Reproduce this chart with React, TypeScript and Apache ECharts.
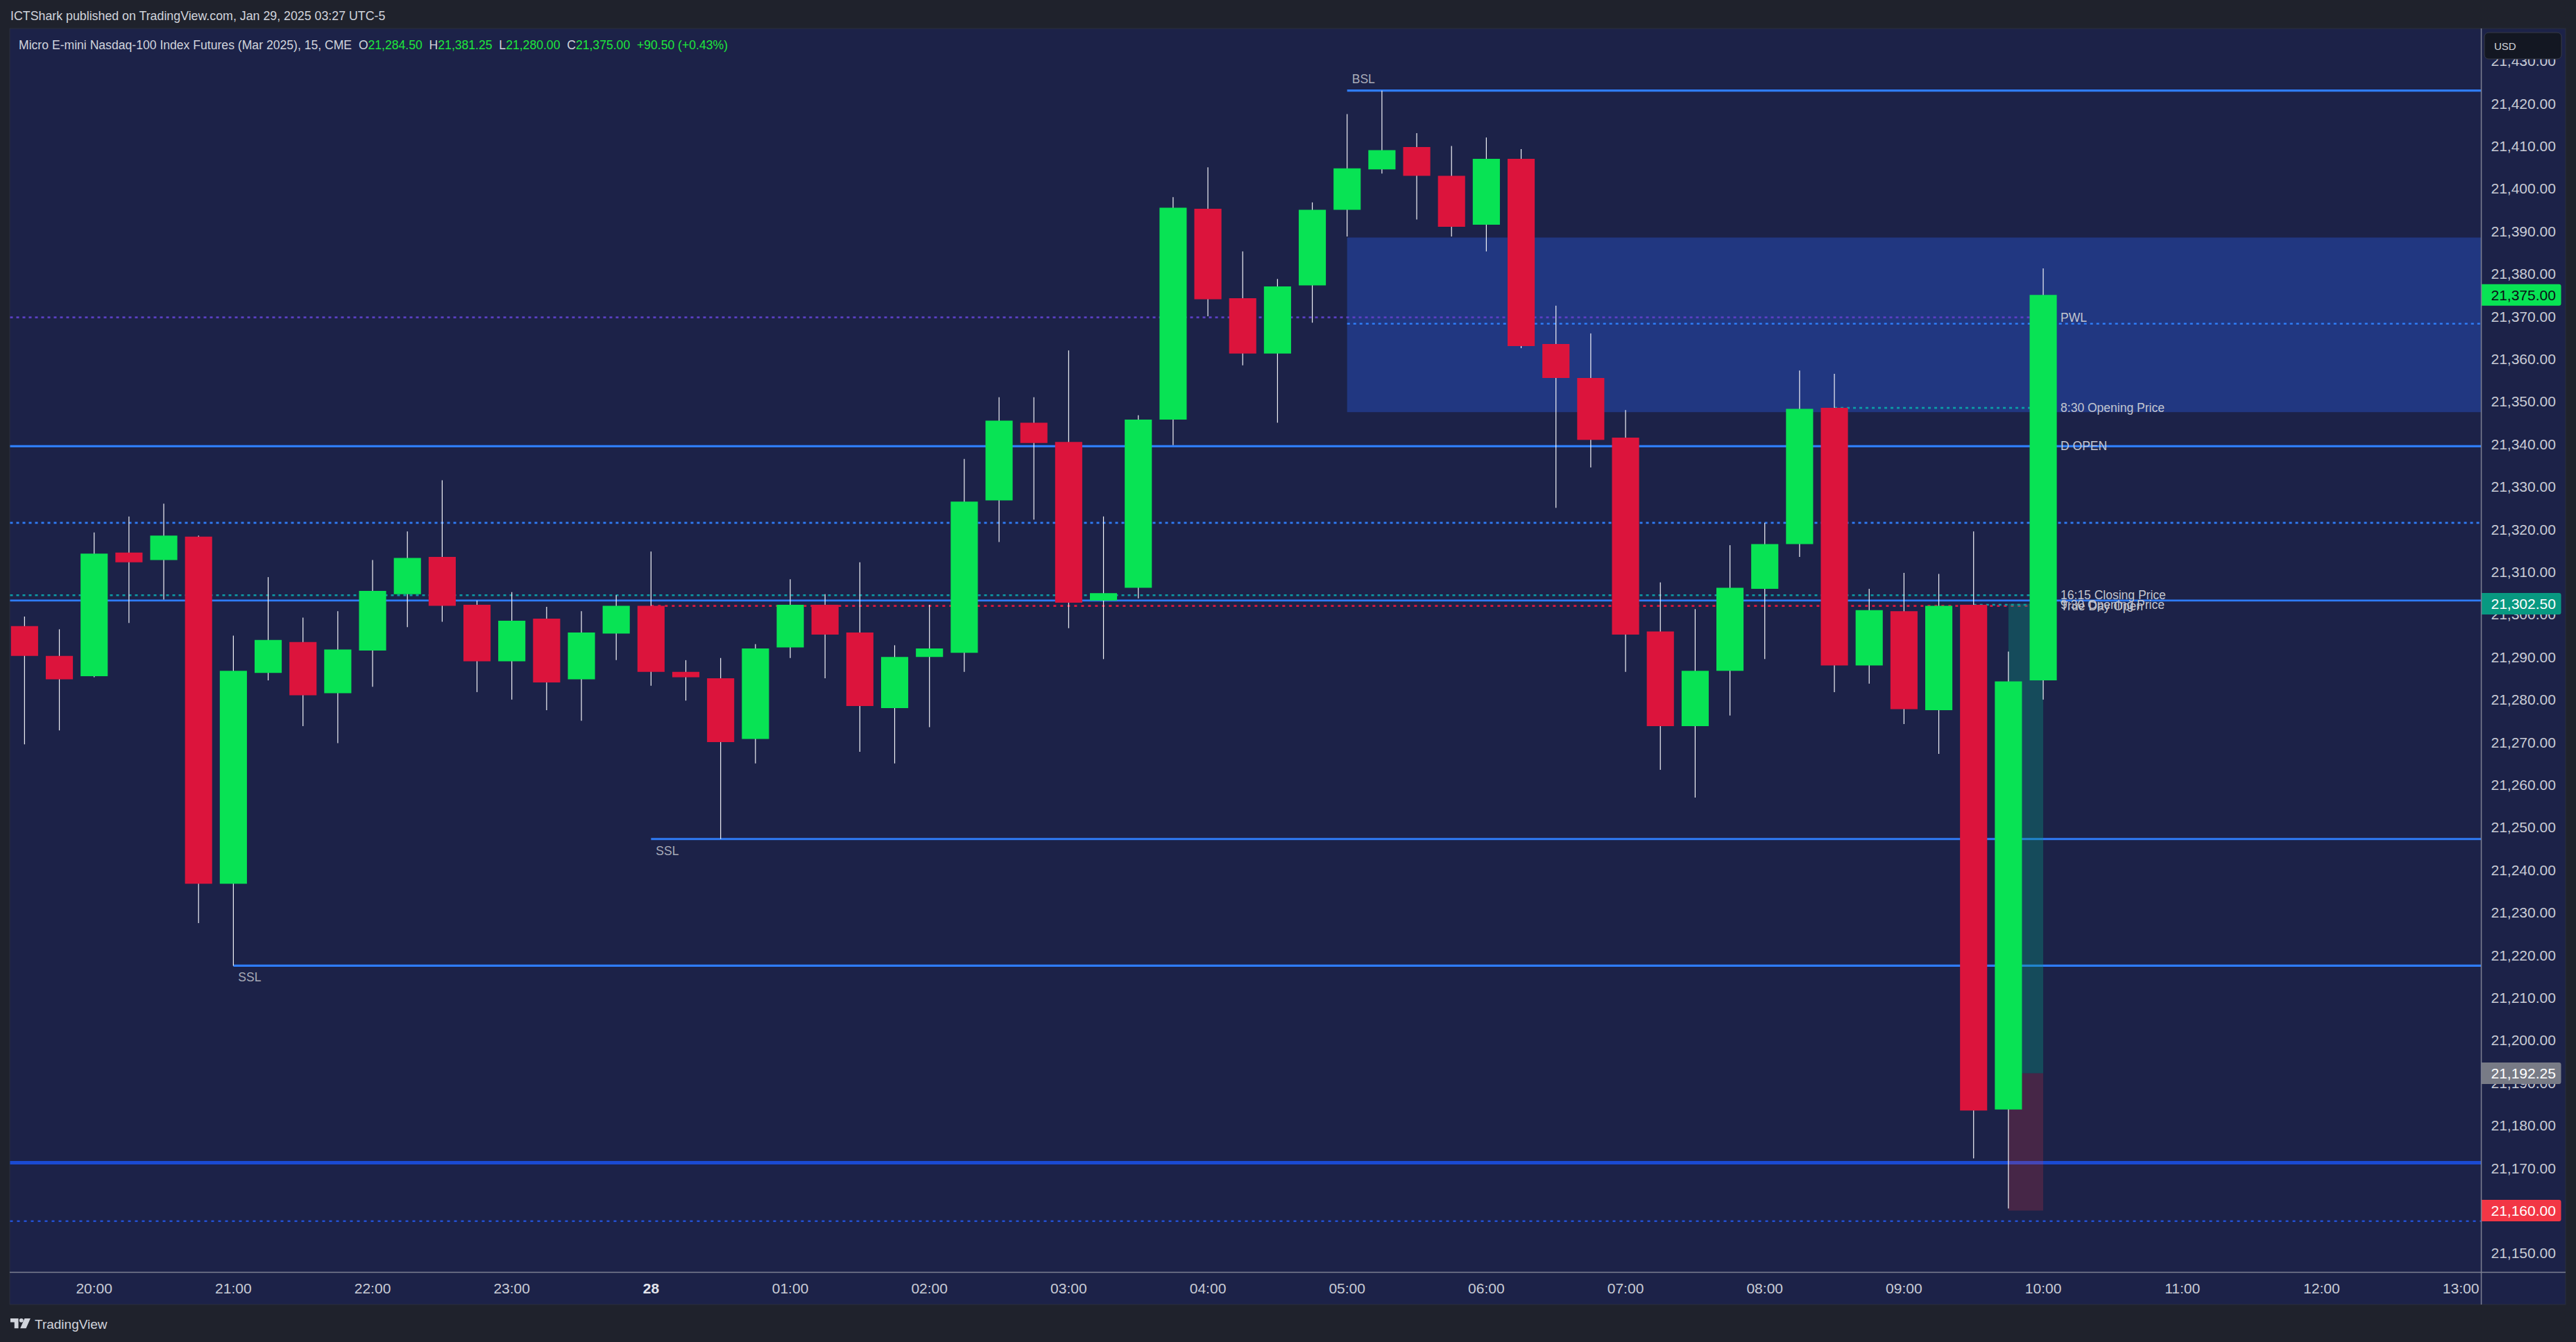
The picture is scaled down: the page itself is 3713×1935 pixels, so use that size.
import React, { useEffect, useRef } from 'react';
import * as echarts from 'echarts';

const W = 3713;
const H = 1935;

// ---- axes ----
const X_MIN = -0.416;
const X_MAX = 70.587;
const Y_MIN = 21145.5;
const Y_MAX = 21437.6;

const xTickPos = [2, 6, 10, 14, 18, 22, 26, 30, 34, 38, 42, 46, 50, 54, 58, 62, 66, 70];
const xTickLabels = ['20:00', '21:00', '22:00', '23:00', '28', '01:00', '02:00', '03:00', '04:00', '05:00', '06:00', '07:00', '08:00', '09:00', '10:00', '11:00', '12:00', '13:00'];
const yTicks = [21150, 21160, 21170, 21180, 21190, 21200, 21210, 21220, 21230, 21240, 21250, 21260, 21270, 21280, 21290, 21300, 21310, 21320, 21330, 21340, 21350, 21360, 21370, 21380, 21390, 21400, 21410, 21420, 21430];

// ---- candles: 15-minute bars from 19:30 (index 0) to 10:00 (index 58) ----
const opens = [
  21297.25, 21290.25, 21285.5, 21314.5, 21312.75, 21318.25, 21236.75, 21286.25, 21293.5, 21281.5,
  21291.5, 21304.75, 21313.5, 21302.25, 21289, 21299, 21284.75, 21295.5, 21302, 21286.5,
  21285, 21270.75, 21292.25, 21302.25, 21295.75, 21278, 21290, 21291, 21326.75, 21345,
  21340.5, 21303.25, 21306.25, 21345.75, 21395.25, 21374.25, 21361.25, 21377.25, 21395, 21404.5,
  21409.75, 21403, 21391.5, 21407, 21363.5, 21355.5, 21341.5, 21296, 21273.75, 21286.75,
  21306, 21316.5, 21348.5, 21288, 21300.75, 21277.5, 21302.25, 21183.75, 21284.5,
];
const highs = [
  21299.5, 21296.5, 21319.25, 21323, 21326, 21318.5, 21295, 21308.75, 21299.25, 21300.75,
  21312.75, 21319.5, 21331.5, 21303.25, 21305.25, 21301.75, 21300.75, 21304.5, 21314.75, 21289.25,
  21289.75, 21293, 21308.25, 21304.75, 21312.25, 21292.75, 21302.25, 21336.5, 21351, 21351,
  21362, 21323, 21346.75, 21398, 21405, 21385.25, 21378.75, 21396.75, 21417.5, 21423,
  21413, 21410, 21412, 21409.25, 21372.5, 21366, 21348, 21307.5, 21301.25, 21316.25,
  21321.5, 21357.25, 21356.5, 21306, 21309.75, 21309.5, 21319.5, 21291.25, 21381.25,
];
const lows = [
  21269.5, 21272.75, 21285.25, 21298, 21303.5, 21227.5, 21217.5, 21284.5, 21273.75, 21269.75,
  21283, 21297, 21298.25, 21281.75, 21280, 21277.5, 21275, 21289.25, 21283.25, 21279.75,
  21247.25, 21265, 21289.75, 21285, 21267.75, 21265, 21273.5, 21286.5, 21317, 21322.25,
  21296.75, 21289.5, 21303.75, 21339.75, 21370, 21358.5, 21345, 21368.5, 21388.75, 21403.5,
  21392.75, 21388.75, 21385.25, 21362.5, 21325, 21334.5, 21286.5, 21263.5, 21257, 21276.25,
  21289.5, 21313.5, 21281.75, 21283.75, 21274.25, 21267.25, 21172.25, 21160.5, 21280,
];
const closes = [
  21290.25, 21284.75, 21314.25, 21312.25, 21318.5, 21236.75, 21286.75, 21294, 21281, 21291.75,
  21305.5, 21313.25, 21302, 21289, 21298.5, 21284, 21295.75, 21302, 21286.5, 21285.25,
  21270, 21292, 21302.25, 21295.25, 21278.5, 21290, 21292, 21326.5, 21345.5, 21340.25,
  21302.75, 21305, 21345.75, 21395.5, 21374, 21361.25, 21377, 21395, 21404.75, 21409,
  21403, 21391, 21407, 21363, 21355.5, 21341, 21295.25, 21273.75, 21286.75, 21306.25,
  21316.5, 21348.25, 21288, 21301, 21277.75, 21302, 21183.5, 21284.25, 21375,
];

// ---- horizontal levels ----
const levelPrices = [21423, 21369.75, 21368.25, 21348.5, 21339.5, 21321.5, 21304.5, 21303.25, 21302, 21302.25, 21247.25, 21217.5, 21171.25, 21157.5];
const levelFrom = [38, X_MIN, 38, 52, X_MIN, X_MIN, X_MIN, X_MIN, 18, 56, 18, 6, X_MIN, X_MIN];
const levelTo = [X_MAX, 58, X_MAX, 58, X_MAX, X_MAX, 58, X_MAX, 58, 58, X_MAX, X_MAX, X_MAX, X_MAX];
const levelKinds = ['solid', 'dotPurple', 'dotBlue', 'dotTeal', 'solid', 'dotBlue', 'dotTeal', 'solidThin', 'dotRed', 'dotTeal', 'solid', 'solid', 'thick', 'dotDark'];

const levelLabelTexts = ['PWL', '8:30 Opening Price', 'D OPEN', '16:15 Closing Price', 'True Day Open', '9:30 Opening Price'];
const levelLabelPrices = [21369.75, 21348.5, 21339.5, 21304.5, 21302, 21302.25];
const levelLabelAt = 58;

const liqTexts = ['BSL', 'SSL', 'SSL'];
const liqPrices = [21423, 21247.25, 21217.5];
const liqFrom = [38, 18, 6];
const liqSide = [-1, 1, 1];

// ---- zones ----
const fvgZone = [38, X_MAX, 21347.5, 21388.5];
const posFrom = 57;
const posTo = 58;
const posEntry = 21192.25;
const posTarget = 21302.5;
const posStop = 21160;

// ---- price tags ----
const tagPrices = [21375, 21302.5, 21192.25, 21160];
const tagKinds = ['last', 'target', 'entry', 'stop'];

// ---- styles ----
const OUTER = '#1f222c';
const PANE = '#1c2248';
const GREEN = '#08e354';
const RED = '#dc143c';
const FONT = 'Liberation Sans, Arial, sans-serif';
const AXIS_TXT = '#c9ccd6';

const lineStyles: Record<string, any> = {
  solid: { color: '#2f7cf6', width: 3.2, type: 'solid' },
  solidThin: { color: '#2f7cf6', width: 2.6, type: 'solid' },
  dotBlue: { color: '#2f7cf6', width: 2.6, type: [4, 5] },
  dotPurple: { color: '#5a3fc2', width: 2.6, type: [4, 5] },
  dotTeal: { color: '#0c9ca6', width: 2.6, type: [4, 5] },
  dotRed: { color: '#e0173f', width: 2.6, type: [4, 6] },
  thick: { color: '#1a4ad2', width: 5, type: 'solid' },
  dotDark: { color: '#2350d2', width: 2.6, type: [4, 6] },
};
const tagStyles: Record<string, { bg: string; fg: string }> = {
  last: { bg: '#08e354', fg: '#0b0e16' },
  target: { bg: '#089981', fg: '#ffffff' },
  entry: { bg: '#787b86', fg: '#ffffff' },
  stop: { bg: '#f23645', fg: '#ffffff' },
};

const LOGO_D =
  'M0 0 H11 V14 H5.5 V5.5 H0 Z M12.2 2.8 A2.8 2.8 0 1 0 17.8 2.8 A2.8 2.8 0 1 0 12.2 2.8 Z M19.5 0 H27.5 L21.5 14 H13.5 Z';

let logoRegistered = false;
function registerLogo() {
  if (logoRegistered) return;
  try {
    echarts.graphic.registerShape('tvlogo', echarts.graphic.extendPath(LOGO_D, {}) as any);
    logoRegistered = true;
  } catch (e) {
    logoRegistered = false;
  }
}

function fmtPrice(v: number) {
  return v.toLocaleString('en-US', { minimumFractionDigits: 2, maximumFractionDigits: 2 });
}

function buildOption() {
  const candleData = opens.map((o, i) => [i, o, closes[i], lows[i], highs[i]]);

  const levelSeries = levelPrices.map((p, i) => ({
    type: 'line',
    data: [
      [levelFrom[i], p],
      [levelTo[i], p],
    ],
    symbol: 'none',
    silent: true,
    z: 2,
    clip: true,
    lineStyle: { ...lineStyles[levelKinds[i]], cap: 'butt' },
  }));

  const zoneRender = (fill: string) => (params: any, api: any) => {
    const a = api.coord([api.value(0), api.value(3)]);
    const b = api.coord([api.value(1), api.value(2)]);
    return {
      type: 'rect',
      shape: { x: a[0], y: a[1], width: b[0] - a[0], height: b[1] - a[1] },
      style: { fill },
    };
  };

  const NBSP = '\u00a0';
  const sp2 = NBSP + NBSP;

  const graphics: any[] = [
    {
      type: 'rect',
      z: -10,
      silent: true,
      shape: { x: 14, y: 41, width: 3684, height: 1840 },
      style: { fill: PANE, stroke: '#2a2e3b', lineWidth: 1 },
    },
    {
      type: 'line',
      z: 50,
      silent: true,
      shape: { x1: 14, y1: 1834.5, x2: 3698, y2: 1834.5 },
      style: { stroke: '#7c8092', lineWidth: 1.5 },
    },
    {
      type: 'line',
      z: 50,
      silent: true,
      shape: { x1: 3576.5, y1: 41, x2: 3576.5, y2: 1881 },
      style: { stroke: '#7c8092', lineWidth: 1.5 },
    },
    {
      type: 'rect',
      z: 100,
      silent: true,
      shape: { x: 3581, y: 47, width: 111, height: 38, r: 6 },
      style: { fill: '#131722', stroke: '#363a45', lineWidth: 1 },
    },
    {
      type: 'text',
      z: 101,
      silent: true,
      x: 3595,
      y: 66,
      style: { text: 'USD', fill: '#d1d4dc', fontSize: 15, fontFamily: FONT, verticalAlign: 'middle', align: 'left' },
    },
    {
      type: 'text',
      z: 101,
      silent: true,
      x: 15,
      y: 23,
      style: {
        text: 'ICTShark published on TradingView.com, Jan 29, 2025 03:27 UTC-5',
        fill: '#d1d4dc',
        fontSize: 17.8,
        fontFamily: FONT,
        verticalAlign: 'middle',
        align: 'left',
      },
    },
    {
      type: 'text',
      z: 101,
      silent: true,
      x: 27,
      y: 65,
      style: {
        text:
          '{w|Micro E-mini Nasdaq-100 Index Futures (Mar 2025), 15, CME' + sp2 + 'O}{g|21,284.50}' +
          '{w|' + sp2 + 'H}{g|21,381.25}{w|' + sp2 + 'L}{g|21,280.00}{w|' + sp2 + 'C}{g|21,375.00}' +
          '{g|' + sp2 + '+90.50 (+0.43%)}',
        verticalAlign: 'middle',
        align: 'left',
        rich: {
          w: { fill: '#d1d4dc', color: '#d1d4dc', fontSize: 17.6, fontFamily: FONT },
          g: { fill: '#1ee63c', color: '#1ee63c', fontSize: 17.6, fontFamily: FONT },
        },
      },
    },
    {
      type: 'text',
      z: 101,
      silent: true,
      x: 50,
      y: 1909,
      style: { text: 'TradingView', fill: '#d1d4dc', fontSize: 19, fontFamily: FONT, verticalAlign: 'middle', align: 'left' },
    },
  ];
  if (logoRegistered) {
    graphics.push({
      type: 'tvlogo',
      z: 101,
      silent: true,
      x: 15,
      y: 1901,
      scaleX: 1.05,
      scaleY: 1.02,
      style: { fill: '#d1d4dc' },
    });
  }

  return {
    animation: false,
    backgroundColor: OUTER,
    grid: { left: 14.5, right: W - 3576.5, top: 41, bottom: H - 1834.5, containLabel: false },
    xAxis: {
      type: 'value',
      min: X_MIN,
      max: X_MAX,
      splitLine: { show: false },
      axisLine: { show: false },
      axisTick: { show: false },
      axisLabel: {
        customValues: xTickPos,
        margin: 12,
        color: AXIS_TXT,
        fontSize: 21,
        fontFamily: FONT,
        formatter: (v: number) => {
          const idx = xTickPos.indexOf(Math.round(v));
          const s = idx >= 0 ? xTickLabels[idx] : '';
          return s === '28' ? '{b|28}' : s;
        },
        rich: { b: { fontWeight: 'bold', color: '#e3e5ec', fontSize: 21, fontFamily: FONT } },
      },
    },
    yAxis: {
      type: 'value',
      position: 'right',
      min: Y_MIN,
      max: Y_MAX,
      splitLine: { show: false },
      axisLine: { show: false },
      axisTick: { show: false },
      axisLabel: {
        customValues: yTicks,
        margin: 14,
        color: AXIS_TXT,
        fontSize: 21,
        fontFamily: FONT,
        formatter: (v: number) => fmtPrice(v),
      },
    },
    graphic: graphics,
    series: [
      {
        type: 'custom',
        z: 1,
        silent: true,
        clip: true,
        data: [fvgZone],
        encode: { x: [0, 1], y: [2, 3] },
        renderItem: zoneRender('#213781'),
      },
      ...levelSeries,
      {
        type: 'custom',
        z: 3,
        silent: true,
        clip: true,
        data: [[posFrom, posTo, posEntry, posTarget]],
        encode: { x: [0, 1], y: [2, 3] },
        renderItem: zoneRender('rgba(8,153,129,0.35)'),
      },
      {
        type: 'custom',
        z: 3,
        silent: true,
        clip: true,
        data: [[posFrom, posTo, posStop, posEntry]],
        encode: { x: [0, 1], y: [2, 3] },
        renderItem: zoneRender('rgba(242,54,69,0.2)'),
      },
      {
        type: 'custom',
        z: 4,
        silent: true,
        clip: true,
        data: candleData,
        encode: { x: 0, y: [1, 2, 3, 4] },
        renderItem: (params: any, api: any) => {
          const x = api.value(0);
          const o = api.value(1);
          const c = api.value(2);
          const l = api.value(3);
          const h = api.value(4);
          const pO = api.coord([x, o]);
          const pC = api.coord([x, c]);
          const pL = api.coord([x, l]);
          const pH = api.coord([x, h]);
          const bw = api.size([1, 0])[0] * 0.78;
          const up = c >= o;
          const top = Math.min(pO[1], pC[1]);
          const bot = Math.max(pO[1], pC[1]);
          const cx = pO[0];
          return {
            type: 'group',
            children: [
              {
                type: 'line',
                shape: { x1: cx, y1: pH[1], x2: cx, y2: pL[1] },
                style: { stroke: '#f2f3f7', lineWidth: 1.2 },
              },
              {
                type: 'rect',
                shape: { x: cx - bw / 2, y: top, width: bw, height: Math.max(bot - top, 1.5) },
                style: { fill: up ? GREEN : RED },
              },
            ],
          };
        },
      },
      {
        type: 'custom',
        z: 5,
        silent: true,
        clip: false,
        data: levelLabelPrices.map((p) => [levelLabelAt, p]),
        encode: { x: 0, y: 1 },
        renderItem: (params: any, api: any) => {
          const pt = api.coord([api.value(0), api.value(1)]);
          return {
            type: 'text',
            x: pt[0] + 25,
            y: pt[1],
            style: {
              text: levelLabelTexts[params.dataIndex],
              fill: '#c3c6cf',
              fontSize: 17.5,
              fontFamily: FONT,
              align: 'left',
              verticalAlign: 'middle',
            },
          };
        },
      },
      {
        type: 'custom',
        z: 5,
        silent: true,
        clip: false,
        data: liqPrices.map((p, i) => [liqFrom[i], p]),
        encode: { x: 0, y: 1 },
        renderItem: (params: any, api: any) => {
          const pt = api.coord([api.value(0), api.value(1)]);
          return {
            type: 'text',
            x: pt[0] + 7,
            y: pt[1] + liqSide[params.dataIndex] * 17,
            style: {
              text: liqTexts[params.dataIndex],
              fill: '#a9acb8',
              fontSize: 17.5,
              fontFamily: FONT,
              align: 'left',
              verticalAlign: 'middle',
            },
          };
        },
      },
      {
        type: 'custom',
        z: 6,
        silent: true,
        clip: false,
        data: tagPrices.map((p) => [X_MAX, p]),
        encode: { x: 0, y: 1 },
        renderItem: (params: any, api: any) => {
          const pt = api.coord([api.value(0), api.value(1)]);
          const st = tagStyles[tagKinds[params.dataIndex]];
          return {
            type: 'group',
            children: [
              {
                type: 'rect',
                shape: { x: pt[0], y: pt[1] - 15.5, width: 115, height: 31, r: [0, 3, 3, 0] },
                style: { fill: st.bg },
              },
              {
                type: 'text',
                x: pt[0] + 14,
                y: pt[1],
                style: {
                  text: fmtPrice(tagPrices[params.dataIndex]),
                  fill: st.fg,
                  fontSize: 21,
                  fontFamily: FONT,
                  align: 'left',
                  verticalAlign: 'middle',
                },
              },
            ],
          };
        },
      },
    ],
  };
}

export default function App() {
  const ref = useRef<HTMLDivElement>(null);
  useEffect(() => {
    if (!ref.current) return;
    registerLogo();
    const chart = echarts.init(ref.current, undefined, { renderer: 'svg', width: W, height: H });
    chart.setOption(buildOption() as any);
    return () => {
      chart.dispose();
    };
  }, []);
  return (
    <div
      ref={ref}
      style={{ position: 'fixed', left: 0, top: 0, width: W, height: H, background: OUTER }}
    />
  );
}
